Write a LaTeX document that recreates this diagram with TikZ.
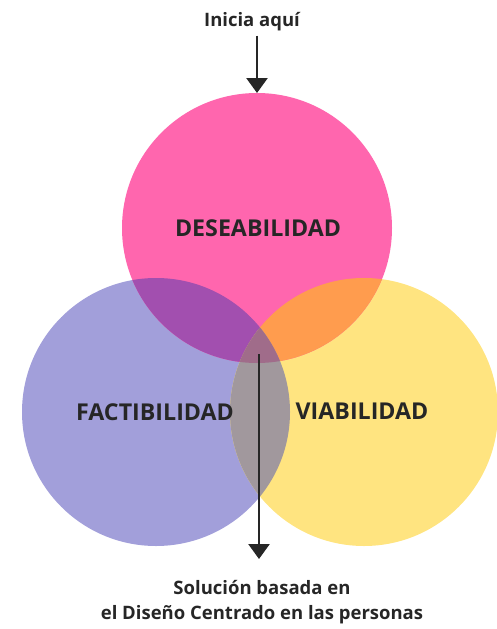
\documentclass[tikz,border=0pt]{standalone}
\usepackage{fontspec}
\setmainfont{Open Sans}
\usepackage{tikz}
\usetikzlibrary{arrows.meta}

\definecolor{rosa}{HTML}{FF66AE}
\definecolor{morado}{HTML}{A29FDA}
\definecolor{amarillo}{HTML}{FFE480}
\definecolor{rosamorado}{HTML}{A24FAF}
\definecolor{naranja}{HTML}{FF9C4E}
\definecolor{gris}{HTML}{A1989D}
\definecolor{centro}{HTML}{A06C8A}
\definecolor{texto}{HTML}{262626}

\begin{document}
\begin{tikzpicture}[x=1pt,y=-1pt,
    etiqueta/.style={font=\bfseries\fontsize{23.2}{27}\selectfont,text=texto,inner sep=0pt},
    nota/.style={font=\bfseries\fontsize{18.5}{24.5}\selectfont,text=texto,align=center,inner sep=0pt},
    flecha/.style={line width=2.6pt,draw=texto,-{Triangle[width=21pt,length=15pt]}}]
    \useasboundingbox (0,0) rectangle (497,629);
    % circulos
    \coordinate (D) at (257,228);
    \coordinate (F) at (156,412);
    \coordinate (V) at (364,412);
    \fill[morado] (F) circle (134pt);
    \fill[amarillo] (V) circle (134pt);
    \fill[rosa] (D) circle (135pt);
    \begin{scope}
        \clip (D) circle (135pt);
        \fill[rosamorado] (F) circle (134pt);
        \fill[naranja] (V) circle (134pt);
    \end{scope}
    \begin{scope}
        \clip (F) circle (134pt);
        \fill[gris] (V) circle (134pt);
        \clip (D) circle (135pt);
        \fill[centro] (V) circle (134pt);
    \end{scope}
    % textos
    \node[etiqueta] (deseabilidad) at (258,228) {DESEABILIDAD};
    \node[etiqueta] (factibilidad) at (155,412) {FACTIBILIDAD};
    \node[etiqueta] (viabilidad) at (362,411) {VIABILIDAD};
    \node[nota] (inicio) at (252,22) {Inicia aquí};
    \node[nota] (solucion) at (262,602) {Solución basada en\\el Diseño Centrado en las personas};
    % flechas
    \coordinate (entrada) at (257,93);
    \coordinate (cruce) at (259,354);
    \coordinate (salida) at (259,559);
    \draw[flecha] (inicio.south) ++(5,4) -- (entrada);
    \draw[flecha] (cruce) -- (salida);
\end{tikzpicture}
\end{document}
